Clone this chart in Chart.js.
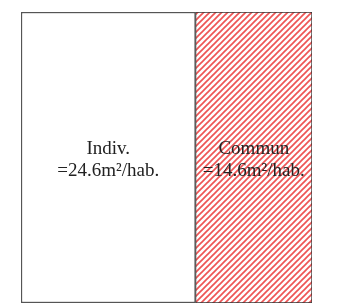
<!DOCTYPE html>
<html>
<head>
<meta charset="utf-8">
<script src="https://cdn.jsdelivr.net/npm/chart.js@4/dist/chart.umd.min.js"></script>
<style>
    html, body { margin: 0; padding: 0; background: #ffffff; }
    #wrap { width: 339px; height: 307px; }
</style>
</head>
<body>
<div id="wrap"><canvas id="surfChart" width="339" height="307"></canvas></div>
<script>
// données
const categories = ['Surface'];
const seriesNames = ['Indiv.', 'Commun'];
const surfaces = [24.6, 14.6];          // m²/hab.
const widthShares = [60, 40];           // largeur relative des blocs (%)

function hatchPattern(ctx) {
    const s = 6;
    const tile = document.createElement('canvas');
    tile.width = s;
    tile.height = s;
    const t = tile.getContext('2d');
    t.fillStyle = '#ffffff';
    t.fillRect(0, 0, s, s);
    t.strokeStyle = '#ee5555';
    t.lineWidth = 1.7;
    // hachures "/"
    for (const c of [0, s, 2 * s]) {
        t.beginPath();
        t.moveTo(-2, c + 2);
        t.lineTo(c + 2, -2);
        t.stroke();
    }
    return ctx.createPattern(tile, 'repeat');
}

const ctx = document.getElementById('surfChart').getContext('2d');

const labelPlugin = {
    id: 'blockLabels',
    afterDatasetsDraw(chart) {
        const c = chart.ctx;
        c.save();
        c.font = '19px "Liberation Serif", "Times New Roman", serif';
        c.fillStyle = '#222222';
        c.textAlign = 'center';
        c.textBaseline = 'alphabetic';
        chart.data.datasets.forEach((ds, i) => {
            const bar = chart.getDatasetMeta(i).data[0];
            const props = bar.getProps(['x', 'base', 'y'], true);
            const cx = (props.x + props.base) / 2;
            c.fillText(seriesNames[i], cx, props.y - 4);
            c.fillText('=' + surfaces[i] + 'm²/hab.', cx, props.y + 18);
        });
        c.restore();
    }
};

new Chart(ctx, {
    type: 'bar',
    data: {
        labels: categories,
        datasets: [
            {
                label: seriesNames[0],
                data: [widthShares[0]],
                backgroundColor: '#ffffff',
                borderColor: '#555555',
                borderWidth: 1.5,
                borderSkipped: false,
                categoryPercentage: 1,
                barPercentage: 1
            },
            {
                label: seriesNames[1],
                data: [widthShares[1]],
                backgroundColor: hatchPattern(ctx),
                borderColor: '#333333',
                borderWidth: 1,
                borderSkipped: false,
                categoryPercentage: 1,
                barPercentage: 1
            }
        ]
    },
    options: {
        indexAxis: 'y',
        responsive: false,
        animation: false,
        layout: { padding: { left: 21, right: 27, top: 12, bottom: 4 } },
        plugins: {
            legend: { display: false },
            tooltip: { enabled: false }
        },
        scales: {
            x: { stacked: true, min: 0, max: 100, display: false },
            y: { stacked: true, display: false }
        }
    },
    plugins: [labelPlugin]
});
</script>
</body>
</html>
